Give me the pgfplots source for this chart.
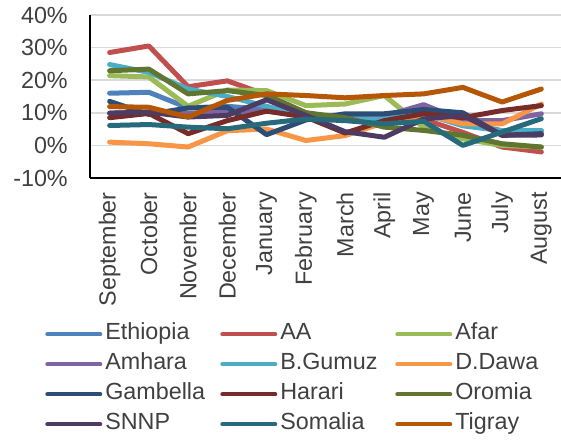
\documentclass[border=0pt]{standalone}
\usepackage{fontspec}
\setmainfont{Liberation Sans}
\usepackage{pgfplots}
\pgfplotsset{compat=1.18}

\definecolor{cEth}{HTML}{4F81BD}
\definecolor{cAA}{HTML}{C0504D}
\definecolor{cAfar}{HTML}{9BBB59}
\definecolor{cAmh}{HTML}{8064A2}
\definecolor{cBG}{HTML}{4BACC6}
\definecolor{cDD}{HTML}{F79646}
\definecolor{cGam}{HTML}{2C4D75}
\definecolor{cHar}{HTML}{772C2A}
\definecolor{cOro}{HTML}{5F7530}
\definecolor{cSNNP}{HTML}{4D3B62}
\definecolor{cSom}{HTML}{276A7C}
\definecolor{cTig}{HTML}{B65708}
\definecolor{txt}{HTML}{404040}

\newcommand{\lblfont}{\fontsize{17.5pt}{21pt}\selectfont}

\begin{document}
\begin{tikzpicture}
\path[use as bounding box] (-67.5pt,-197.25pt) rectangle (353.25pt,133.5pt);
\begin{axis}[
    scale only axis,
    width=353.25pt, height=122.25pt,
    xmin=-0.5, xmax=11.5,
    ymin=-10, ymax=40,
    xtick={0,...,11},
    xticklabels={September,October,November,December,January,February,March,April,May,June,July,August},
    ytick={-10,0,10,20,30,40},
    yticklabels={-10\%,0\%,10\%,20\%,30\%,40\%},
    major tick length=0pt,
    axis lines=left,
    axis line style={-, black, line width=1.1pt},
    ymajorgrids,
    grid style={color=black!15, line width=1.1pt},
    xticklabel style={rotate=90, anchor=east, inner sep=0pt, xshift=-10.5pt, font=\lblfont, text=txt},
    yticklabel style={anchor=east, inner sep=0pt, xshift=-16.5pt, font=\lblfont, text=txt},
    every axis plot/.append style={line width=3.75pt, line join=round, line cap=round, mark=none},
    clip=false,
    legend columns=3,
    legend style={at={(axis description cs:-0.0955,-0.89)}, anchor=north west,
        draw=none, fill=none, inner sep=0pt, column sep=0pt, row sep=6pt,
        nodes={font=\lblfont, text=txt, anchor=west, text width=84pt, inner xsep=2.25pt, inner ysep=0pt, text height=12.5pt, text depth=4pt}},
    legend image code/.code={\draw[#1, line width=3pt, line cap=round] (1.5pt,0pt) -- (41.25pt,0pt);},
    legend cell align=left,
]
\addplot[cEth] coordinates {(0,16) (1,16.3) (2,11.5) (3,12) (4,11) (5,9) (6,8.5) (7,8.5) (8,9.5) (9,7) (10,4.5) (11,4.5)};
\addlegendentry{Ethiopia}
\addplot[cAA] coordinates {(0,28.5) (1,30.5) (2,18) (3,19.8) (4,15.5) (5,10) (6,8) (7,7) (8,8) (9,4) (10,-0.5) (11,-2)};
\addlegendentry{AA}
\addplot[cAfar] coordinates {(0,21.4) (1,21) (2,12) (3,17) (4,16.8) (5,12.2) (6,12.7) (7,15.3) (8,5.5) (9,2) (10,0) (11,-0.5)};
\addlegendentry{Afar}
\addplot[cAmh] coordinates {(0,9.9) (1,10.2) (2,9.8) (3,10.2) (4,10.5) (5,9.5) (6,8.7) (7,9) (8,12.5) (9,7.6) (10,7.6) (11,9.7)};
\addlegendentry{Amhara}
\addplot[cBG] coordinates {(0,24.8) (1,22.4) (2,17.3) (3,15) (4,12) (5,9) (6,8) (7,8.1) (8,9.7) (9,6) (10,4.5) (11,4.5)};
\addlegendentry{B.Gumuz}
\addplot[cDD] coordinates {(0,1) (1,0.5) (2,-0.5) (3,4.5) (4,5) (5,1.5) (6,3) (7,7) (8,9.5) (9,6.6) (10,6.6) (11,12.7)};
\addlegendentry{D.Dawa}
\addplot[cGam] coordinates {(0,13.5) (1,9.5) (2,11.5) (3,11.7) (4,3.3) (5,7.8) (6,9.7) (7,9.7) (8,11) (9,10) (10,3.1) (11,3.6)};
\addlegendentry{Gambella}
\addplot[cHar] coordinates {(0,8.5) (1,9.8) (2,3.6) (3,7.6) (4,10.5) (5,8.7) (6,3.8) (7,7.6) (8,9.7) (9,8.5) (10,10.7) (11,12.2)};
\addlegendentry{Harari}
\addplot[cOro] coordinates {(0,22.9) (1,23.4) (2,15.8) (3,16.8) (4,15.3) (5,10) (6,8.5) (7,5.6) (8,4.6) (9,3.1) (10,0.5) (11,-0.5)};
\addlegendentry{Oromia}
\addplot[cSNNP] coordinates {(0,9.9) (1,10.2) (2,8.7) (3,9.2) (4,14) (5,9.2) (6,4.2) (7,2.5) (8,8.1) (9,9.2) (10,3.1) (11,3.2)};
\addlegendentry{SNNP}
\addplot[cSom] coordinates {(0,6.1) (1,6.4) (2,5.6) (3,5.1) (4,6.8) (5,8.1) (6,7.6) (7,6.6) (8,7.4) (9,0) (10,4.1) (11,8.2)};
\addlegendentry{Somalia}
\addplot[cTig] coordinates {(0,11.9) (1,11.7) (2,8.7) (3,13.8) (4,15.8) (5,15.3) (6,14.6) (7,15.3) (8,15.8) (9,17.8) (10,13.3) (11,17.3)};
\addlegendentry{Tigray}
\end{axis}
\end{tikzpicture}
\end{document}
